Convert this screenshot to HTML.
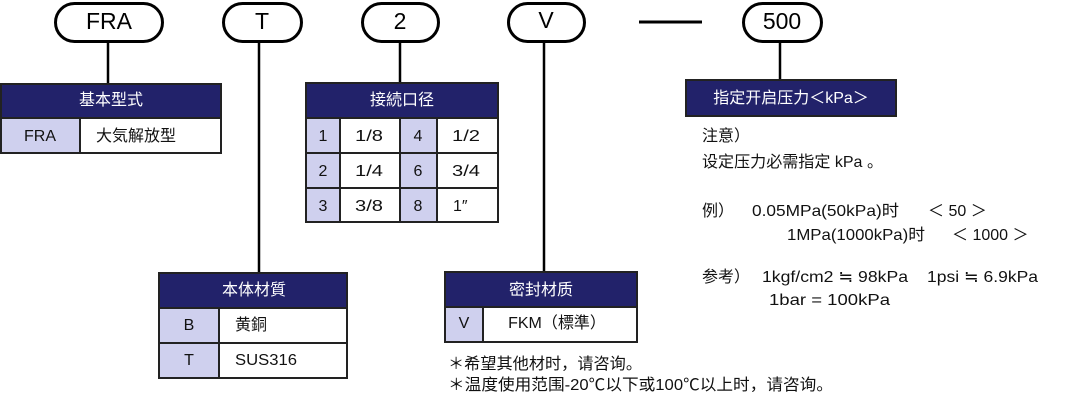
<!DOCTYPE html>
<html><head><meta charset="utf-8">
<style>
html,body{margin:0;padding:0;background:#fff;}
svg{display:block;}
text{font-family:"Liberation Sans","Noto Sans CJK SC",sans-serif;fill:#111;}
.h{fill:#fff;font-size:16px;}
.c{font-size:16px;}
.p{font-size:23px;fill:#000;}
.n{font-size:16px;}
</style></head>
<body>
<svg width="1081" height="407" viewBox="0 0 1081 407" xmlns="http://www.w3.org/2000/svg">
<!-- connectors -->
<g stroke="#000" stroke-width="2.5" fill="none">
<line x1="108" y1="42" x2="108" y2="84"/>
<line x1="259" y1="42" x2="259" y2="273"/>
<line x1="400" y1="42" x2="400" y2="83"/>
<line x1="544" y1="42" x2="544" y2="272"/>
<line x1="780" y1="43" x2="780" y2="80"/>
</g>
<line x1="639" y1="22" x2="702" y2="22" stroke="#000" stroke-width="3"/>

<!-- pills -->
<g stroke="#000" stroke-width="3" fill="#fff">
<rect x="55.5" y="3.5" width="107" height="38" rx="19"/>
<rect x="223.5" y="3.5" width="78" height="38" rx="19"/>
<rect x="362.5" y="3.5" width="76" height="38" rx="19"/>
<rect x="508.5" y="3.5" width="76" height="38" rx="19"/>
<rect x="743.5" y="3.5" width="78" height="38" rx="19"/>
</g>
<text class="p" x="109" y="29" text-anchor="middle">FRA</text>
<text class="p" x="262" y="29" text-anchor="middle">T</text>
<text class="p" x="400" y="29" text-anchor="middle">2</text>
<text class="p" x="546" y="28" text-anchor="middle">V</text>
<text class="p" x="782" y="29" text-anchor="middle">500</text>

<!-- Table 1 基本型式 -->
<rect x="1" y="84" width="220" height="69" fill="#fff"/>
<rect x="1" y="84" width="220" height="34" fill="#22226a"/>
<rect x="1" y="118" width="79" height="35" fill="#cfd0ee"/>
<g stroke="#222" stroke-width="2" fill="none">
<rect x="1" y="84" width="220" height="69"/>
<line x1="1" y1="118" x2="221" y2="118"/>
<line x1="80" y1="118" x2="80" y2="153"/>
</g>
<text class="h" x="111" y="105" text-anchor="middle">基本型式</text>
<text class="c" x="40" y="141" text-anchor="middle">FRA</text>
<text class="c" x="96" y="141">大気解放型</text>

<!-- Table 2 接続口径 -->
<rect x="306" y="83" width="192" height="139" fill="#fff"/>
<rect x="306" y="83" width="192" height="35" fill="#22226a"/>
<rect x="306" y="118" width="34" height="104" fill="#cfd0ee"/>
<rect x="400" y="118" width="37" height="104" fill="#cfd0ee"/>
<g stroke="#222" stroke-width="2" fill="none">
<rect x="306" y="83" width="192" height="139"/>
<line x1="306" y1="118" x2="498" y2="118"/>
<line x1="306" y1="153" x2="498" y2="153"/>
<line x1="306" y1="188" x2="498" y2="188"/>
<line x1="340" y1="118" x2="340" y2="222"/>
<line x1="400" y1="118" x2="400" y2="222"/>
<line x1="437" y1="118" x2="437" y2="222"/>
</g>
<text class="h" x="402" y="105" text-anchor="middle">接続口径</text>
<text class="c" x="323" y="141" text-anchor="middle">1</text>
<text class="c" x="355" y="141" textLength="28" lengthAdjust="spacingAndGlyphs">1/8</text>
<text class="c" x="418" y="141" text-anchor="middle">4</text>
<text class="c" x="452" y="141" textLength="28" lengthAdjust="spacingAndGlyphs">1/2</text>
<text class="c" x="323" y="176" text-anchor="middle">2</text>
<text class="c" x="355" y="176" textLength="28" lengthAdjust="spacingAndGlyphs">1/4</text>
<text class="c" x="418" y="176" text-anchor="middle">6</text>
<text class="c" x="452" y="176" textLength="28" lengthAdjust="spacingAndGlyphs">3/4</text>
<text class="c" x="323" y="211" text-anchor="middle">3</text>
<text class="c" x="355" y="211" textLength="28" lengthAdjust="spacingAndGlyphs">3/8</text>
<text class="c" x="418" y="211" text-anchor="middle">8</text>
<text class="c" x="453" y="211">1″</text>

<!-- Table 3 本体材質 -->
<rect x="159" y="273" width="188" height="105" fill="#fff"/>
<rect x="159" y="273" width="188" height="35" fill="#22226a"/>
<rect x="159" y="308" width="60" height="70" fill="#cfd0ee"/>
<g stroke="#222" stroke-width="2" fill="none">
<rect x="159" y="273" width="188" height="105"/>
<line x1="159" y1="308" x2="347" y2="308"/>
<line x1="159" y1="343" x2="347" y2="343"/>
<line x1="219" y1="308" x2="219" y2="378"/>
</g>
<text class="h" x="254" y="295" text-anchor="middle">本体材質</text>
<text class="c" x="189" y="330" text-anchor="middle">B</text>
<text class="c" x="235" y="330">黄銅</text>
<text class="c" x="189" y="365" text-anchor="middle">T</text>
<text class="c" x="235" y="365" textLength="62" lengthAdjust="spacingAndGlyphs">SUS316</text>

<!-- Table 4 密封材质 -->
<rect x="445" y="272" width="192" height="70" fill="#fff"/>
<rect x="445" y="272" width="192" height="35" fill="#22226a"/>
<rect x="445" y="307" width="38" height="35" fill="#cfd0ee"/>
<g stroke="#222" stroke-width="2" fill="none">
<rect x="445" y="272" width="192" height="70"/>
<line x1="445" y1="307" x2="637" y2="307"/>
<line x1="483" y1="307" x2="483" y2="342"/>
</g>
<text class="h" x="541" y="295" text-anchor="middle">密封材质</text>
<text class="c" x="464" y="328" text-anchor="middle">V</text>
<text class="c" x="557" y="328" text-anchor="middle">FKM（標準）</text>

<text class="n" x="448" y="369" textLength="194" lengthAdjust="spacingAndGlyphs">＊希望其他材时，请咨询。</text>
<text class="n" x="448" y="390" textLength="385" lengthAdjust="spacingAndGlyphs">＊温度使用范围-20℃以下或100℃以上时，请咨询。</text>

<!-- 指定开启压力 -->
<rect x="686" y="80" width="210" height="36" fill="#22226a" stroke="#222" stroke-width="2"/>
<text class="h" x="791" y="103" text-anchor="middle">指定开启压力＜kPa＞</text>

<text class="c" x="702" y="141">注意）</text>
<text class="c" x="702" y="167" textLength="181" lengthAdjust="spacingAndGlyphs">设定压力必需指定 kPa 。</text>
<text class="c" x="702" y="216">例）</text>
<text class="c" x="752" y="216" textLength="147" lengthAdjust="spacingAndGlyphs">0.05MPa(50kPa)时</text>
<text class="c" x="928" y="216">＜ 50 ＞</text>
<text class="c" x="787" y="240" textLength="138" lengthAdjust="spacingAndGlyphs">1MPa(1000kPa)时</text>
<text class="c" x="952" y="240">＜ 1000 ＞</text>
<text class="c" x="702" y="282">参考）</text>
<text class="c" x="762" y="282" textLength="146" lengthAdjust="spacingAndGlyphs">1kgf/cm2 ≒ 98kPa</text>
<text class="c" x="927" y="282" textLength="111" lengthAdjust="spacingAndGlyphs">1psi ≒ 6.9kPa</text>
<text class="c" x="769" y="305" textLength="121" lengthAdjust="spacingAndGlyphs">1bar = 100kPa</text>
</svg>
</body></html>
